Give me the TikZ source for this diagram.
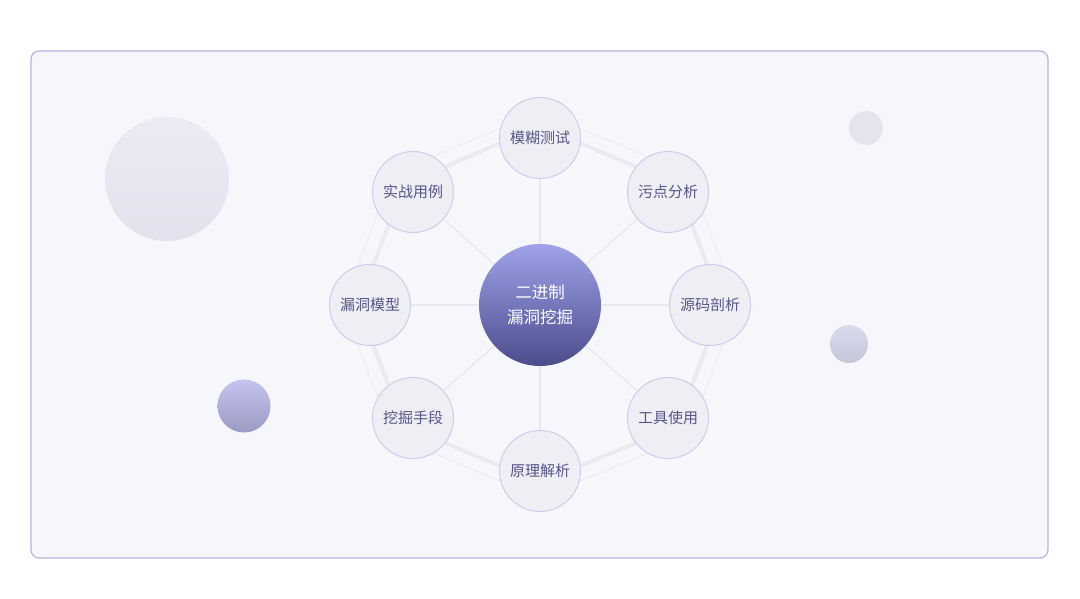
\documentclass[tikz,border=0pt]{standalone}
\usepackage{fontspec}
\setmainfont{Noto Sans CJK SC}
\usetikzlibrary{calc}
\pgfdeclarelayer{bg}
\pgfdeclarelayer{edges}
\pgfsetlayers{bg,edges,main}
\definecolor{framefill}{HTML}{F6F7FB}
\definecolor{framedraw}{HTML}{B4B4E0}
\definecolor{nodefill}{HTML}{EEEEF4}
\definecolor{nodedraw}{HTML}{CCCCF2}
\definecolor{nodetext}{HTML}{565688}
\definecolor{ringthick}{HTML}{EAEAF0}
\definecolor{ringthin}{HTML}{EDEDF3}
\definecolor{spoke}{HTML}{E8E8EF}
\definecolor{ctop}{HTML}{A0A2EA}
\definecolor{cbot}{HTML}{4A4C8C}
\definecolor{daTop}{HTML}{EBEBF6}
\definecolor{daBot}{HTML}{E2E2EE}
\definecolor{dbFill}{HTML}{E4E4EF}
\definecolor{dcTop}{HTML}{DADAEC}
\definecolor{dcBot}{HTML}{C6C6DC}
\definecolor{ddTop}{HTML}{C4C4F0}
\definecolor{ddBot}{HTML}{9A9AC2}
\tikzset{
  outer/.style={circle, minimum size=81pt, inner sep=0pt, fill=nodefill, draw=nodedraw, line width=1pt, text=nodetext, font=\fontsize{15pt}{16pt}\selectfont},
  hub/.style={circle, minimum size=122pt, inner sep=0pt, top color=ctop, bottom color=cbot, draw=none, text=white, align=center, font=\fontsize{16.5pt}{27pt}\selectfont},
  spokeline/.style={draw=spoke, line width=1.3pt},
  thickring/.style={draw=ringthick, line width=4pt, line join=round},
  thinring/.style={draw=ringthin, line width=1.2pt, line join=round},
  deco/.style={circle, inner sep=0pt, draw=none}
}
\newcommand{\lowtxt}[1]{\raisebox{-2pt}{#1}}
\begin{document}
\begin{tikzpicture}[x=1pt,y=-1pt]
\useasboundingbox (0,0) rectangle (1080,599);
\begin{pgfonlayer}{bg}
  \fill[white] (0,0) rectangle (1080,599);
  \draw[fill=framefill, draw=framedraw, line width=1.2pt, rounded corners=8pt] (31,51) rectangle (1048,558);
\end{pgfonlayer}
% decorative circles
\node[deco, minimum size=124pt, top color=daTop, bottom color=daBot] (d1) at (167,179) {};
\node[deco, minimum size=34pt, fill=dbFill] (d2) at (866,128) {};
\node[deco, minimum size=38pt, top color=dcTop, bottom color=dcBot] (d3) at (849,344) {};
\node[deco, minimum size=53pt, top color=ddTop, bottom color=ddBot] (d4) at (244,406) {};
% hub
\node[hub] (c) at (540,305) {\lowtxt{二进制}\\漏洞挖掘};
% outer nodes
\node[outer] (n1) at (540,138) {\lowtxt{模糊测试}};
\node[outer] (n2) at (668,192) {\lowtxt{污点分析}};
\node[outer] (n3) at (710,305) {\lowtxt{源码剖析}};
\node[outer] (n4) at (668,418) {\lowtxt{工具使用}};
\node[outer] (n5) at (540,471) {\lowtxt{原理解析}};
\node[outer] (n6) at (413,418) {\lowtxt{挖掘手段}};
\node[outer] (n7) at (370,305) {\lowtxt{漏洞模型}};
\node[outer] (n8) at (413,192) {\lowtxt{实战用例}};
\begin{pgfonlayer}{edges}
  \draw[thinring] ($(c.center)!1.16!(n1.center)$) -- ($(c.center)!1.16!(n2.center)$) -- ($(c.center)!1.16!(n3.center)$) -- ($(c.center)!1.16!(n4.center)$) -- ($(c.center)!1.16!(n5.center)$) -- ($(c.center)!1.16!(n6.center)$) -- ($(c.center)!1.16!(n7.center)$) -- ($(c.center)!1.16!(n8.center)$) -- cycle;
  \draw[thickring] ($(c.center)!1.07!(n1.center)$) -- ($(c.center)!1.07!(n2.center)$) -- ($(c.center)!1.07!(n3.center)$) -- ($(c.center)!1.07!(n4.center)$) -- ($(c.center)!1.07!(n5.center)$) -- ($(c.center)!1.07!(n6.center)$) -- ($(c.center)!1.07!(n7.center)$) -- ($(c.center)!1.07!(n8.center)$) -- cycle;
  \foreach \n in {n1,n2,n3,n4,n5,n6,n7,n8}
    \draw[spokeline] (c.center) -- (\n.center);
\end{pgfonlayer}
\end{tikzpicture}
\end{document}
